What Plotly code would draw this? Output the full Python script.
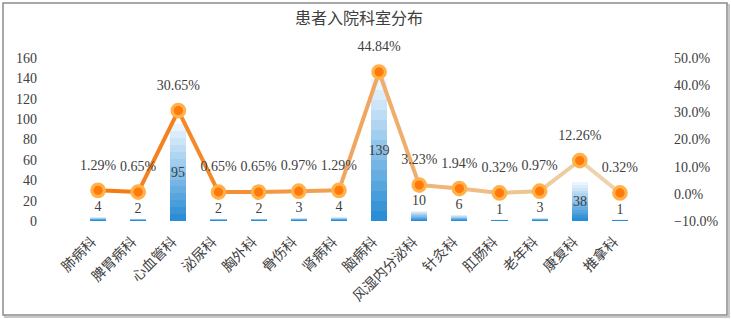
import plotly.graph_objects as go

categories = ["肺病科", "脾胃病科", "心血管科", "泌尿科", "胸外科", "骨伤科", "肾病科",
              "脑病科", "风湿内分泌科", "针灸科", "肛肠科", "老年科", "康复科", "推拿科"]
counts = [4, 2, 95, 2, 2, 3, 4, 139, 10, 6, 1, 3, 38, 1]
percents = [0.0129, 0.0065, 0.3065, 0.0065, 0.0065, 0.0097, 0.0129,
            0.4484, 0.0323, 0.0194, 0.0032, 0.0097, 0.1226, 0.0032]
left_ticks = [0, 20, 40, 60, 80, 100, 120, 140, 160]
right_ticks = [-0.1, 0.0, 0.1, 0.2, 0.3, 0.4, 0.5]

FONT = "Liberation Serif, Noto Sans CJK SC, serif"
TXT = "#404040"


def hex2rgb(h):
    h = h.lstrip("#")
    return tuple(int(h[i:i + 2], 16) for i in (0, 2, 4))


def mix(c1, c2, t):
    a, b = hex2rgb(c1), hex2rgb(c2)
    return "rgb(%d,%d,%d)" % tuple(round(a[i] + (b[i] - a[i]) * t) for i in range(3))


fig = go.Figure()

# stepped vertical gradient for bars (light top -> blue bottom)
N = 14
for k in range(N):
    frac = (N - k) / N
    fig.add_trace(go.Bar(
        x=categories, y=[v * frac for v in counts],
        marker=dict(color=mix("#EAF5FE", "#2B8DD5", k / (N - 1)), line=dict(width=0)),
        width=0.4, showlegend=False, hoverinfo="skip", yaxis="y"))

# bar labels
fig.add_trace(go.Bar(
    x=categories, y=counts, text=[str(v) for v in counts],
    textposition=["inside" if v >= 20 else "outside" for v in counts],
    insidetextanchor="middle", constraintext="none", textangle=0,
    textfont=dict(family=FONT, size=14, color=TXT),
    insidetextfont=dict(family=FONT, size=14, color=TXT),
    outsidetextfont=dict(family=FONT, size=14, color=TXT),
    marker=dict(color="rgba(0,0,0,0)", line=dict(width=0)),
    width=0.4, showlegend=False, cliponaxis=False, yaxis="y"))

# line segments with colour gradient
nseg = len(categories) - 1
for i in range(nseg):
    fig.add_trace(go.Scatter(
        x=categories[i:i + 2], y=percents[i:i + 2], mode="lines",
        line=dict(color=mix("#F57A12", "#EDD3AC", i / (nseg - 1)), width=4),
        yaxis="y2", showlegend=False, hoverinfo="skip"))

# markers
fig.add_trace(go.Scatter(
    x=categories, y=percents, mode="markers",
    marker=dict(size=12.5, color="#FF7A0A", line=dict(color="#FFB24A", width=3.2)),
    yaxis="y2", showlegend=False, cliponaxis=False))

# percentage labels
fig.add_trace(go.Scatter(
    x=categories, y=percents, mode="markers+text",
    marker=dict(size=26, color="rgba(0,0,0,0)"),
    text=["%.2f%%" % (p * 100) for p in percents], textposition="top center",
    textfont=dict(family=FONT, size=14, color=TXT),
    yaxis="y2", showlegend=False, cliponaxis=False, hoverinfo="skip"))

# chart border
W, H = 731, 319
ml, mr, mt, mb = 51, 64, 58, 98
pw, ph = W - ml - mr, H - mt - mb


def px(x):
    return (x - ml) / pw


def py(y):
    return (H - mb - y) / ph


fig.add_shape(type="rect", xref="paper", yref="paper",
              x0=px(5), x1=px(729), y0=py(5), y1=py(317),
              line=dict(color="#C8C8C8", width=2), layer="below")
fig.add_shape(type="rect", xref="paper", yref="paper",
              x0=px(3), x1=px(727), y0=py(3), y1=py(315),
              line=dict(color="#8C8C8C", width=1.5), fillcolor="white", layer="below")

fig.update_layout(
    width=W, height=H,
    margin=dict(l=ml, r=mr, t=mt, b=mb, autoexpand=False),
    paper_bgcolor="white", plot_bgcolor="rgba(0,0,0,0)",
    barmode="overlay", bargap=0,
    title=dict(text="患者入院科室分布", x=0.5, xref="paper", y=1 - 18 / H, yref="container",
               yanchor="middle", xanchor="center", automargin=False,
               font=dict(family="Noto Sans CJK SC", size=16, color=TXT)),
    font=dict(family=FONT, color=TXT),
    xaxis=dict(type="category", tickangle=-45, showgrid=False, showline=False, zeroline=False,
               ticks="", automargin=False, ticklabelstandoff=9, ticklabelshift=-6,
               tickfont=dict(family="Noto Sans CJK SC", size=14, color=TXT)),
    yaxis=dict(range=[0, 160], tickvals=left_ticks, showgrid=False, zeroline=False,
               showline=False, ticks="", automargin=False,
               tickfont=dict(family=FONT, size=14, color=TXT), ticklabelstandoff=13),
    yaxis2=dict(range=[-0.1, 0.5], tickvals=right_ticks, tickformat=".1%", overlaying="y",
                side="right", showgrid=False, zeroline=False, showline=False, ticks="",
                automargin=False,
                tickfont=dict(family=FONT, size=14, color=TXT), ticklabelstandoff=6),
)

fig.write_html("out.html", config={"displayModeBar": False},
               post_script="document.body.style.margin='0px';document.body.style.overflow='hidden';")
